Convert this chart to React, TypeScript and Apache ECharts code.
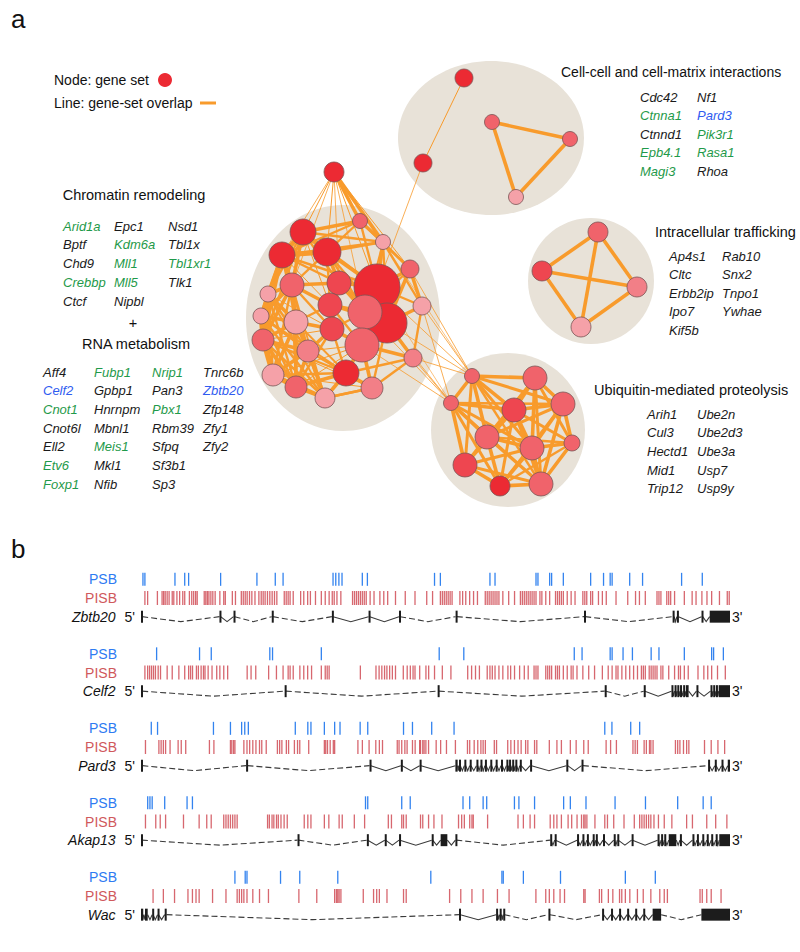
import React, { useEffect, useRef } from 'react';
import * as echarts from 'echarts';

const FONT = 'Liberation Sans, Arial, Helvetica, sans-serif';

// ---------------- Panel a: gene-set network ----------------
// [id, layoutX, layoutY, nodeRadius (gene-set size), shade level (1 = strongest)]
const chromatinRnaNodes: [string, number, number, number, number][] = [
  ['c0', 334, 172, 10, 1],
  ['c1', 360, 221, 7.5, 3],
  ['c3', 383, 242, 7.5, 5],
  ['c2', 303, 232, 13, 1],
  ['c4', 282, 255, 13, 1],
  ['c5', 327, 252, 14, 1],
  ['c6', 377, 287, 23, 1],
  ['c13', 387, 323, 20, 1],
  ['c7', 410, 269, 9, 3],
  ['c8', 292, 285, 12, 3],
  ['c9', 339, 283, 12, 2],
  ['c10', 268, 294, 8, 5],
  ['c11', 330, 305, 12, 2],
  ['c14', 261, 316, 8, 5],
  ['c15', 296, 322, 12, 5],
  ['c16', 422, 306, 9, 5],
  ['c17', 332, 329, 12, 2],
  ['c18', 263, 340, 11, 3],
  ['c19', 308, 351, 11, 4],
  ['c12', 365, 312, 17, 3],
  ['c20', 362, 345, 17, 3],
  ['c21', 413, 358, 9, 4],
  ['c22', 273, 375, 11, 5],
  ['c23', 346, 373, 13, 1],
  ['c24', 296, 387, 11, 3],
  ['c25', 372, 388, 11, 4],
  ['c26', 325, 398, 10, 5],
];
const cellMatrixNodes: [string, number, number, number, number][] = [
  ['k0', 464, 78, 9, 1],
  ['k1', 423, 163, 9, 1],
  ['k2', 492, 122, 7.5, 3],
  ['k3', 570, 139, 7.5, 3],
  ['k4', 516, 197, 7.5, 5],
];
const traffickingNodes: [string, number, number, number, number][] = [
  ['t0', 598, 232, 10, 3],
  ['t1', 542, 271, 10, 2],
  ['t2', 637, 287, 10, 4],
  ['t3', 581, 327, 10, 5],
];
const ubiquitinNodes: [string, number, number, number, number][] = [
  ['u0', 472, 376, 7.5, 3],
  ['u1', 535, 378, 12, 3],
  ['u2', 451, 403, 7.5, 3],
  ['u3', 514, 410, 12, 2],
  ['u4', 563, 404, 12, 3],
  ['u5', 487, 437, 12, 3],
  ['u6', 532, 448, 12, 3],
  ['u7', 572, 443, 8, 3],
  ['u8', 465, 465, 12, 2],
  ['u9', 500, 486, 10, 1],
  ['u10', 541, 484, 12, 3],
];
// cluster background ellipses: [centerX, centerY, radiusX, radiusY]
const clusterAreas: [number, number, number, number][] = [
  [343, 318, 97, 113],
  [491, 138, 93, 77],
  [591, 281, 63, 63],
  [508, 430, 77, 77],
];
// [source, target, overlap weight]
const chromatinRnaLinks: [string, string, number][] = [
  ['c0', 'c1', 3], ['c0', 'c3', 3], ['c0', 'c2', 1], ['c0', 'c5', 1], ['c0', 'c4', 0.8], ['c0', 'c6', 1], ['c0', 'c9', 0.8], ['c0', 'c7', 1],
  ['c0', 'c8', 0.8], ['c0', 'c12', 0.8],
  ['c1', 'c3', 3], ['c1', 'c2', 3], ['c1', 'c5', 2], ['c3', 'c7', 2], ['c3', 'c6', 3], ['c1', 'c6', 2], ['c3', 'c5', 2], ['c3', 'c2', 2], ['c3', 'c16', 2], ['c1', 'c7', 2],
  ['c1', 'c4', 2], ['c3', 'c4', 2], ['c3', 'c13', 2], ['c3', 'c12', 1.5],
  ['c2', 'c4', 4], ['c2', 'c5', 4], ['c4', 'c5', 4], ['c2', 'c8', 3], ['c4', 'c8', 4], ['c5', 'c9', 3], ['c2', 'c9', 2], ['c4', 'c10', 3],
  ['c4', 'c14', 3], ['c4', 'c15', 2], ['c5', 'c11', 2], ['c5', 'c6', 3], ['c2', 'c6', 2], ['c4', 'c6', 2], ['c5', 'c12', 2], ['c5', 'c13', 2],
  ['c4', 'c18', 3], ['c2', 'c18', 2], ['c8', 'c10', 3], ['c8', 'c14', 3], ['c8', 'c15', 3], ['c8', 'c9', 3], ['c8', 'c11', 3], ['c8', 'c18', 3],
  ['c8', 'c17', 2], ['c8', 'c19', 2], ['c8', 'c22', 2], ['c8', 'c24', 2], ['c9', 'c11', 3], ['c9', 'c6', 3], ['c9', 'c12', 3], ['c9', 'c17', 2],
  ['c10', 'c14', 3], ['c10', 'c15', 3], ['c10', 'c18', 3], ['c10', 'c22', 2], ['c10', 'c19', 2], ['c14', 'c18', 4], ['c14', 'c15', 3],
  ['c14', 'c22', 3], ['c14', 'c19', 2], ['c14', 'c24', 2], ['c15', 'c18', 3], ['c15', 'c19', 3], ['c15', 'c17', 3], ['c15', 'c22', 3],
  ['c15', 'c24', 3], ['c15', 'c11', 2], ['c18', 'c22', 4], ['c18', 'c19', 3], ['c18', 'c24', 3], ['c18', 'c23', 2], ['c18', 'c26', 2],
  ['c19', 'c22', 3], ['c19', 'c24', 3], ['c19', 'c26', 3], ['c19', 'c23', 2], ['c19', 'c17', 3], ['c22', 'c24', 4], ['c22', 'c26', 3],
  ['c24', 'c26', 3], ['c24', 'c23', 3], ['c26', 'c23', 3], ['c26', 'c25', 2], ['c23', 'c25', 3], ['c23', 'c20', 3], ['c17', 'c20', 3],
  ['c17', 'c23', 2], ['c17', 'c11', 3], ['c11', 'c12', 3], ['c12', 'c13', 3], ['c12', 'c20', 3], ['c13', 'c20', 3], ['c6', 'c13', 3],
  ['c6', 'c12', 3], ['c6', 'c7', 3], ['c7', 'c16', 3], ['c7', 'c13', 3], ['c16', 'c13', 3], ['c16', 'c21', 2], ['c13', 'c21', 3],
  ['c20', 'c21', 3], ['c20', 'c25', 3], ['c21', 'c25', 2], ['c6', 'c16', 2], ['c7', 'c12', 2], ['c21', 'c23', 2], ['c25', 'c26', 2],
  ['c13', 'c25', 2], ['c6', 'c20', 2], ['c9', 'c13', 2], ['c11', 'c20', 2], ['c17', 'c24', 2], ['c12', 'c17', 2], ['c11', 'c13', 2],
  ['c15', 'c26', 2], ['c22', 'c23', 2], ['c10', 'c24', 2], ['c14', 'c26', 2], ['c2', 'c10', 2], ['c4', 'c9', 2], ['c5', 'c8', 2],
  ['c2', 'c11', 1], ['c4', 'c11', 1], ['c14', 'c17', 1], ['c18', 'c17', 1], ['c10', 'c17', 1], ['c19', 'c20', 1], ['c24', 'c20', 1], ['c22', 'c25', 1],
  ['c10', 'c26', 1.5], ['c14', 'c23', 1.5], ['c8', 'c26', 1.5], ['c15', 'c23', 1.5], ['c18', 'c25', 1], ['c22', 'c20', 1],
];
const cellMatrixLinks: [string, string, number][] = [
  ['k0', 'k1', 1], ['k1', 'c6', 0.8], ['k2', 'k3', 3], ['k3', 'k4', 3], ['k2', 'k4', 3],
];
const traffickingLinks: [string, string, number][] = [
  ['t0', 't1', 3], ['t0', 't2', 3], ['t1', 't3', 3], ['t2', 't3', 3], ['t0', 't3', 3], ['t1', 't2', 3],
];
const ubiquitinLinks: [string, string, number][] = [
  ['u0', 'u1', 3], ['u0', 'u2', 3], ['u0', 'u3', 3], ['u0', 'u4', 2.5], ['u0', 'u5', 3], ['u0', 'u6', 2.5], ['u0', 'u8', 2.5], ['u0', 'u10', 2],
  ['u1', 'u3', 3], ['u1', 'u4', 3], ['u1', 'u5', 2.5], ['u1', 'u6', 3], ['u1', 'u7', 2.5], ['u1', 'u10', 2.5], ['u1', 'u8', 2],
  ['u2', 'u3', 3], ['u2', 'u5', 3], ['u2', 'u8', 3], ['u2', 'u9', 2.5], ['u2', 'u6', 2.5], ['u2', 'u4', 2], ['u2', 'u10', 2],
  ['u3', 'u4', 3], ['u3', 'u5', 3], ['u3', 'u6', 3], ['u3', 'u7', 2.5], ['u3', 'u8', 2.5], ['u3', 'u9', 2.5], ['u3', 'u10', 3],
  ['u4', 'u5', 2.5], ['u4', 'u6', 3], ['u4', 'u7', 3], ['u4', 'u10', 3], ['u4', 'u9', 2],
  ['u5', 'u6', 3], ['u5', 'u8', 3], ['u5', 'u9', 3], ['u5', 'u10', 2.5], ['u5', 'u7', 2],
  ['u6', 'u7', 3], ['u6', 'u8', 2.5], ['u6', 'u9', 3], ['u6', 'u10', 3], ['u7', 'u10', 3], ['u7', 'u9', 2],
  ['u8', 'u9', 3], ['u8', 'u10', 2.5], ['u9', 'u10', 3],
];
const crossClusterLinks: [string, string, number][] = [
  ['u0', 'c16', 0.8], ['u0', 'c7', 0.8], ['u0', 'c6', 0.8], ['u0', 'c13', 0.8], ['u0', 'c21', 0.8], ['u2', 'c21', 0.8],
  ['u2', 'c16', 0.8], ['u2', 'c13', 0.8], ['u2', 'c20', 0.8], ['u2', 'c12', 0.8], ['u0', 'c3', 0.6], ['u2', 'c6', 0.6],
];

// gene lists: [gene, status] 0 = black, 1 = green, 2 = blue
const cellMatrixGenes: [string, number][] = [
  ['Cdc42', 0], ['Ctnna1', 1], ['Ctnnd1', 0], ['Epb4.1', 1], ['Magi3', 1],
  ['Nf1', 0], ['Pard3', 2], ['Pik3r1', 1], ['Rasa1', 1], ['Rhoa', 0],
];
const traffickingGenes: [string, number][] = [
  ['Ap4s1', 0], ['Cltc', 0], ['Erbb2ip', 0], ['Ipo7', 0], ['Kif5b', 0],
  ['Rab10', 0], ['Snx2', 0], ['Tnpo1', 0], ['Ywhae', 0],
];
const ubiquitinGenes: [string, number][] = [
  ['Arih1', 0], ['Cul3', 0], ['Hectd1', 0], ['Mid1', 0], ['Trip12', 0],
  ['Ube2n', 0], ['Ube2d3', 0], ['Ube3a', 0], ['Usp7', 0], ['Usp9y', 0],
];
const chromatinGenes: [string, number][] = [
  ['Arid1a', 1], ['Bptf', 0], ['Chd9', 0], ['Crebbp', 1], ['Ctcf', 0],
  ['Epc1', 0], ['Kdm6a', 1], ['Mll1', 1], ['Mll5', 1], ['Nipbl', 0],
  ['Nsd1', 0], ['Tbl1x', 0], ['Tbl1xr1', 1], ['Tlk1', 0],
];
const rnaGenes: [string, number][] = [
  ['Aff4', 0], ['Celf2', 2], ['Cnot1', 1], ['Cnot6l', 0], ['Ell2', 0], ['Etv6', 1], ['Foxp1', 1],
  ['Fubp1', 1], ['Gpbp1', 0], ['Hnrnpm', 0], ['Mbnl1', 0], ['Meis1', 1], ['Mkl1', 0], ['Nfib', 0],
  ['Nrip1', 1], ['Pan3', 0], ['Pbx1', 1], ['Rbm39', 0], ['Sfpq', 0], ['Sf3b1', 0], ['Sp3', 0],
  ['Tnrc6b', 0], ['Zbtb20', 2], ['Zfp148', 0], ['Zfy1', 0], ['Zfy2', 0],
];

// ---------------- Panel b: gene tracks (relative gene coordinates) ----------------
const geneNames = ['Zbtb20', 'Celf2', 'Pard3', 'Akap13', 'Wac'];
const geneExtents: [number, number][] = [[28, 1537], [28, 1537], [135, 1452], [135, 1452], [135, 1452]];

const zbtb20Psb = [33, 38, 115, 140, 150, 232, 325, 372, 392, 520, 527, 535, 543, 595, 608, 780, 795, 922, 935, 1040, 1045, 1075, 1080, 1110, 1180, 1213, 1230, 1235, 1280, 1313, 1413, 1466];
const zbtb20Pisb = [38, 45, 70, 82, 86, 90, 95, 100, 108, 112, 120, 127, 135, 140, 152, 158, 163, 168, 172, 190, 194, 198, 202, 207, 212, 218, 230, 240, 244, 262, 270, 285, 290, 295, 300, 306, 312, 320, 330, 336, 341, 346, 352, 358, 364, 370, 376, 395, 400, 405, 410, 418, 437, 445, 455, 462, 475, 490, 500, 510, 518, 523, 530, 540, 570, 575, 580, 585, 590, 595, 600, 605, 615, 625, 640, 650, 660, 680, 705, 730, 760, 775, 795, 800, 805, 810, 815, 820, 825, 845, 852, 860, 870, 880, 890, 910, 915, 920, 925, 930, 935, 940, 945, 955, 970, 985, 1000, 1005, 1010, 1015, 1020, 1025, 1030, 1035, 1040, 1050, 1055, 1065, 1075, 1090, 1095, 1100, 1105, 1110, 1120, 1130, 1140, 1160, 1165, 1170, 1180, 1185, 1200, 1210, 1220, 1245, 1275, 1295, 1305, 1320, 1350, 1355, 1360, 1375, 1380, 1385, 1395, 1420, 1440, 1450, 1465, 1478, 1490, 1510, 1530, 1535];
const zbtb20Exons: [number, number][] = [[28, 31], [229, 232], [265, 268], [363, 366], [517, 520], [611, 614], [689, 692], [834, 837], [1163, 1166], [1390, 1394], [1401, 1405], [1464, 1467], [1485, 1537]];

const celf2Psb = [68, 178, 208, 358, 365, 490, 792, 855, 1138, 1158, 1230, 1235, 1263, 1287, 1335, 1355, 1420, 1490, 1495, 1520];
const celf2Pisb = [38, 45, 50, 55, 60, 65, 72, 78, 95, 108, 125, 140, 150, 155, 160, 170, 175, 182, 188, 192, 200, 210, 222, 230, 240, 250, 300, 310, 322, 355, 375, 392, 405, 410, 418, 435, 445, 455, 465, 490, 500, 505, 510, 590, 630, 638, 645, 652, 658, 665, 672, 680, 700, 710, 718, 725, 730, 742, 758, 765, 780, 800, 822, 865, 875, 885, 895, 915, 922, 928, 935, 945, 955, 968, 975, 985, 998, 1010, 1020, 1035, 1040, 1045, 1065, 1070, 1075, 1080, 1090, 1095, 1100, 1110, 1120, 1130, 1135, 1145, 1160, 1175, 1190, 1210, 1225, 1235, 1245, 1250, 1260, 1270, 1280, 1290, 1300, 1310, 1315, 1320, 1330, 1335, 1340, 1345, 1350, 1360, 1365, 1380, 1395, 1405, 1410, 1420, 1430, 1455, 1470, 1480, 1490, 1505, 1525];
const celf2Exons: [number, number][] = [[28, 31], [396, 399], [788, 791], [1216, 1219], [1316, 1319], [1387, 1390], [1395, 1398], [1402, 1405], [1409, 1412], [1417, 1420], [1424, 1431], [1451, 1454], [1487, 1490], [1494, 1497], [1501, 1504], [1508, 1537]];

const pard3Psb = [158, 172, 297, 335, 360, 367, 375, 480, 508, 515, 545, 568, 580, 625, 642, 722, 742, 785, 835, 1172, 1188, 1230, 1250];
const pard3Pisb = [145, 175, 180, 185, 190, 200, 218, 225, 235, 288, 298, 335, 338, 342, 345, 365, 372, 378, 385, 392, 400, 405, 415, 440, 445, 450, 460, 465, 478, 485, 490, 510, 545, 548, 552, 558, 565, 568, 620, 630, 645, 660, 668, 675, 708, 712, 718, 725, 730, 742, 748, 758, 760, 765, 768, 772, 778, 795, 805, 818, 838, 865, 870, 880, 888, 895, 900, 905, 925, 930, 955, 962, 970, 978, 985, 995, 1000, 1015, 1020, 1048, 1065, 1075, 1095, 1108, 1125, 1135, 1175, 1185, 1198, 1235, 1240, 1245, 1260, 1265, 1272, 1275, 1280, 1330, 1335, 1340, 1348, 1355, 1360, 1395, 1410, 1425, 1440];
const pard3Exons: [number, number][] = [[135, 138], [370, 373], [646, 649], [716, 719], [758, 761], [838, 843], [846, 849], [858, 861], [870, 873], [885, 888], [894, 897], [904, 907], [916, 919], [928, 931], [940, 943], [952, 955], [958, 961], [965, 968], [972, 975], [982, 985], [1005, 1008], [1086, 1089], [1120, 1123], [1403, 1406], [1418, 1421], [1433, 1436], [1447, 1452]];

const akap13Psb = [150, 155, 160, 188, 238, 250, 637, 642, 718, 737, 855, 870, 900, 908, 970, 980, 1015, 1080, 1095, 1130, 1195, 1263, 1335, 1392, 1410];
const akap13Pisb = [145, 168, 178, 190, 230, 265, 282, 292, 320, 325, 330, 335, 340, 345, 350, 418, 422, 428, 432, 438, 442, 448, 455, 462, 500, 508, 515, 545, 555, 578, 585, 612, 635, 688, 695, 718, 722, 728, 760, 765, 778, 790, 808, 845, 852, 858, 870, 875, 878, 910, 978, 990, 1005, 1015, 1050, 1058, 1065, 1075, 1090, 1098, 1110, 1120, 1125, 1128, 1132, 1150, 1172, 1178, 1192, 1215, 1238, 1250, 1255, 1260, 1265, 1270, 1275, 1282, 1292, 1305, 1322, 1355, 1368, 1400, 1420, 1445];
const akap13Exons: [number, number][] = [[135, 137], [485, 487], [640, 642], [680, 682], [712, 714], [785, 787], [805, 820], [838, 840], [1050, 1052], [1060, 1062], [1110, 1112], [1122, 1124], [1132, 1134], [1145, 1147], [1152, 1154], [1168, 1170], [1192, 1194], [1200, 1202], [1232, 1234], [1290, 1292], [1298, 1300], [1305, 1307], [1315, 1332], [1340, 1342], [1368, 1370], [1378, 1380], [1390, 1392], [1400, 1402], [1410, 1412], [1420, 1422], [1428, 1452]];

const wacPsb = [345, 368, 372, 447, 490, 575, 783, 942, 945, 990, 1073, 1218, 1285];
const wacPisb = [162, 185, 210, 240, 250, 258, 265, 295, 325, 350, 355, 360, 365, 372, 385, 400, 420, 488, 528, 568, 572, 575, 578, 582, 632, 655, 662, 668, 685, 722, 728, 825, 850, 875, 900, 932, 958, 1018, 1040, 1048, 1058, 1072, 1082, 1125, 1128, 1160, 1165, 1180, 1190, 1205, 1210, 1218, 1228, 1245, 1258, 1275, 1295, 1305, 1312, 1385, 1390, 1400, 1410, 1432];
const wacExons: [number, number][] = [[135, 140], [144, 150], [160, 162], [172, 174], [188, 192], [846, 849], [929, 933], [937, 941], [945, 948], [1046, 1049], [1166, 1169], [1186, 1189], [1204, 1207], [1222, 1225], [1240, 1243], [1258, 1261], [1279, 1298], [1388, 1452]];

const psbSets = [zbtb20Psb, celf2Psb, pard3Psb, akap13Psb, wacPsb];
const pisbSets = [zbtb20Pisb, celf2Pisb, pard3Pisb, akap13Pisb, wacPisb];
const exonSets = [zbtb20Exons, celf2Exons, pard3Exons, akap13Exons, wacExons];

// ---------------- styling ----------------
const SHADES: Record<number, string> = { 1: '#EC2A33', 2: '#EE4650', 3: '#F0636B', 4: '#F27F87', 5: '#F5A1A8' };
const STATUS_COLORS = ['#1a1a1a', '#1f9a4a', '#2f5cf0'];
const PSB_COLOR = '#3383ef';
const PISB_COLOR = 'rgba(200,45,55,0.72)';
const EDGE_SCALE = 1.2;

function text(str: string, x: number, y: number, opt: any = {}) {
  return {
    type: 'text', x, y, silent: true,
    style: {
      text: str, fill: opt.fill || '#111', fontSize: opt.size || 14, fontFamily: FONT,
      fontStyle: opt.italic ? 'italic' : 'normal',
      textAlign: opt.align || 'left', align: opt.align || 'left',
      textVerticalAlign: 'middle', verticalAlign: 'middle',
    },
  };
}

function geneBlock(list: [string, number][], cols: number[], y0: number, rowH: number, rows: number) {
  return list.map(([name, st], i) =>
    text(name, cols[Math.floor(i / rows)], y0 + (i % rows) * rowH, { italic: true, size: 13, fill: STATUS_COLORS[st] })
  );
}

function tickRenderer(half: number, color: string, width: number) {
  return (params: any, api: any) => {
    const p = api.coord([api.value(0), api.value(1)]);
    return {
      type: 'line',
      shape: { x1: p[0], y1: p[1] - half, x2: p[0], y2: p[1] + half },
      style: { stroke: color, lineWidth: width },
    };
  };
}

function exonRenderer(params: any, api: any) {
  const s = api.coord([api.value(0), 0]);
  const e = api.coord([api.value(1), 0]);
  const w = Math.max(e[0] - s[0], 2);
  return { type: 'rect', shape: { x: s[0], y: s[1] - 6, width: w, height: 12 }, style: { fill: '#1c1c1c' } };
}

function intronRenderer(params: any, api: any) {
  const s = api.coord([api.value(0), 0]);
  const e = api.coord([api.value(1), 0]);
  const len = e[0] - s[0];
  return {
    type: 'polyline',
    shape: { points: [[s[0], s[1]], [(s[0] + e[0]) / 2, s[1] + 5], [e[0], e[1]]] },
    style: { stroke: '#3a3a3a', lineWidth: 1.1, fill: null, lineDash: len > 36 ? [6, 3] : null },
  };
}

export default function App() {
  const ref = useRef<HTMLDivElement>(null);

  useEffect(() => {
    if (!ref.current) return;
    const chart = echarts.init(ref.current, null, { renderer: 'svg' });

    const allNodes = [...chromatinRnaNodes, ...cellMatrixNodes, ...traffickingNodes, ...ubiquitinNodes];
    const allLinks = [...chromatinRnaLinks, ...cellMatrixLinks, ...traffickingLinks, ...ubiquitinLinks, ...crossClusterLinks];

    const grids: any[] = [{ left: 0, top: 0, width: 800, height: 952 }];
    const xAxes: any[] = [{ type: 'value', min: 0, max: 800, show: false, gridIndex: 0 }];
    const yAxes: any[] = [{ type: 'value', min: 0, max: 952, inverse: true, show: false, gridIndex: 0 }];
    const series: any[] = [
      {
        type: 'custom', coordinateSystem: 'cartesian2d', xAxisIndex: 0, yAxisIndex: 0, z: 1, silent: true,
        data: clusterAreas,
        renderItem: (params: any, api: any) => {
          const c = api.coord([api.value(0), api.value(1)]);
          const s = api.size([api.value(2), api.value(3)]);
          return { type: 'ellipse', shape: { cx: c[0], cy: c[1], rx: Math.abs(s[0]), ry: Math.abs(s[1]) }, style: { fill: '#E8E2D8' } };
        },
      },
      {
        type: 'graph', coordinateSystem: 'cartesian2d', xAxisIndex: 0, yAxisIndex: 0, z: 3, silent: true,
        layout: 'none', symbol: 'circle',
        data: allNodes.map(([id, x, y, r, lvl]) => ({
          name: id, value: [x, y], symbolSize: r * 2,
          itemStyle: { color: SHADES[lvl], borderColor: '#7a5556', borderWidth: 0.8 },
        })),
        links: allLinks.map(([s, t, w]) => ({ source: s, target: t, lineStyle: { width: w >= 1.5 ? w * EDGE_SCALE : w } })),
        lineStyle: { color: '#F89B2C', opacity: 1, curveness: 0 },
        label: { show: false },
        emphasis: { disabled: true },
      },
    ];

    const axisLabelRich = {
      psb: { color: '#2e7bf2', fontSize: 14, fontFamily: FONT, padding: [0, 18, 0, 0] },
      pisb: { color: '#d0595c', fontSize: 14, fontFamily: FONT, padding: [0, 18, 0, 0] },
      gn: { color: '#111', fontSize: 14, fontFamily: FONT, fontStyle: 'italic' },
      fp: { color: '#111', fontSize: 14, fontFamily: FONT, padding: [0, 0, 0, 9] },
    };

    geneNames.forEach((gene, g) => {
      const gi = g + 1;
      grids.push({ left: 141, width: 589, top: 570 + g * 74.5, height: 56 });
      xAxes.push({ type: 'value', gridIndex: gi, min: geneExtents[g][0], max: geneExtents[g][1], show: false });
      yAxes.push({
        type: 'category', gridIndex: gi, data: [gene, 'PISB', 'PSB'],
        axisLine: { show: false }, axisTick: { show: false }, splitLine: { show: false },
        axisLabel: {
          interval: 0, margin: 6,
          formatter: (v: string) => (v === 'PSB' ? '{psb|PSB}' : v === 'PISB' ? '{pisb|PISB}' : `{gn|${v}}{fp|5'}`),
          rich: axisLabelRich,
        },
      });
    });
    geneNames.forEach((gene, g) => {
      yAxes.push({
        type: 'category', gridIndex: g + 1, position: 'right', data: ["3'", '', ''],
        axisLine: { show: false }, axisTick: { show: false }, splitLine: { show: false },
        axisLabel: { interval: 0, margin: 2, color: '#111', fontSize: 14, fontFamily: FONT },
      });
    });

    geneNames.forEach((gene, g) => {
      const gi = g + 1;
      const exons = exonSets[g];
      const introns = exons.slice(1).map((ex, i) => [exons[i][1], ex[0], 0]);
      series.push(
        {
          type: 'custom', name: gene + ' PSB', xAxisIndex: gi, yAxisIndex: gi, silent: true,
          data: psbSets[g].map((p) => [p, 2]), renderItem: tickRenderer(6.5, PSB_COLOR, 1.3),
        },
        {
          type: 'custom', name: gene + ' PISB', xAxisIndex: gi, yAxisIndex: gi, silent: true,
          data: pisbSets[g].map((p) => [p, 1]), renderItem: tickRenderer(7, PISB_COLOR, 1.3),
        },
        {
          type: 'custom', name: gene + ' introns', xAxisIndex: gi, yAxisIndex: gi, silent: true,
          encode: { x: [0, 1], y: 2 }, data: introns, renderItem: intronRenderer,
        },
        {
          type: 'custom', name: gene + ' exons', xAxisIndex: gi, yAxisIndex: gi, silent: true,
          encode: { x: [0, 1], y: 2 }, data: exons.map(([a, b]) => [a, b, 0]), renderItem: exonRenderer,
        }
      );
    });

    const graphics: any[] = [
      text('a', 11, 19, { size: 26 }),
      text('b', 11, 549, { size: 26 }),
      text('Node: gene set', 54, 80),
      { type: 'circle', silent: true, shape: { cx: 165, cy: 80, r: 7 }, style: { fill: '#EC2A33' } },
      text('Line: gene-set overlap', 54, 103),
      { type: 'line', silent: true, shape: { x1: 200, y1: 103, x2: 216, y2: 103 }, style: { stroke: '#F89B2C', lineWidth: 3 } },
      text('Cell-cell and cell-matrix interactions', 561, 72, { size: 14 }),
      text('Chromatin remodeling', 134, 195, { size: 14.5, align: 'center' }),
      text('+', 133, 323, { size: 14.5, align: 'center' }),
      text('RNA metabolism', 136, 344, { size: 14.5, align: 'center' }),
      text('Intracellular trafficking', 655, 232, { size: 14.5 }),
      text('Ubiquitin-mediated proteolysis', 594, 390, { size: 14.5 }),
      ...geneBlock(cellMatrixGenes, [640, 697], 97, 18.6, 5),
      ...geneBlock(traffickingGenes, [669, 722], 256, 18.6, 5),
      ...geneBlock(ubiquitinGenes, [647, 697], 414, 18.7, 5),
      ...geneBlock(chromatinGenes, [63, 114, 168], 226, 18.75, 5),
      ...geneBlock(rnaGenes, [43, 94, 152, 203], 372, 18.7, 7),
    ];

    chart.setOption({
      animation: false,
      textStyle: { fontFamily: FONT },
      grid: grids,
      xAxis: xAxes,
      yAxis: yAxes,
      series,
      graphic: { elements: graphics },
    });

    return () => chart.dispose();
  }, []);

  return (
    <div
      ref={ref}
      style={{ position: 'absolute', left: 0, top: 0, width: 800, height: 952, background: '#fff' }}
    />
  );
}
